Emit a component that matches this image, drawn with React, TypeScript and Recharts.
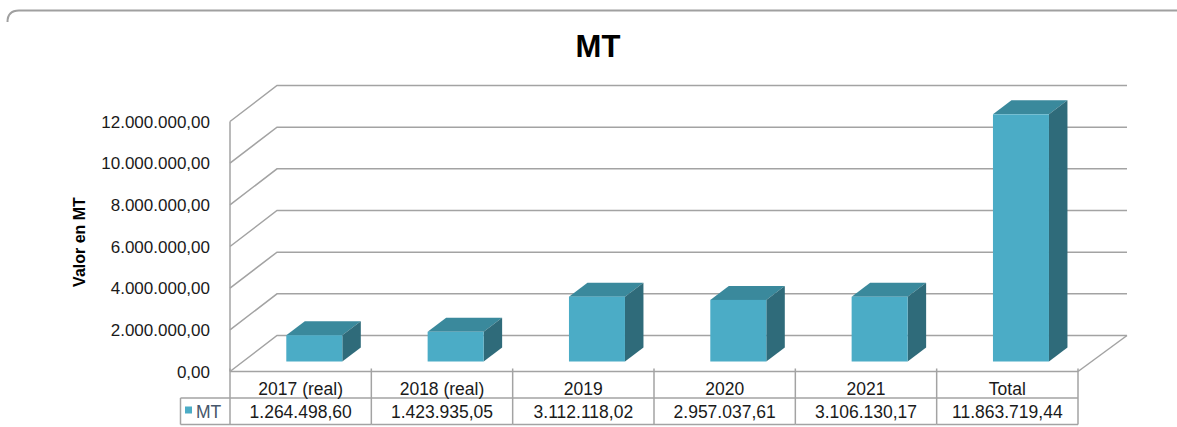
import React from 'react';
import { BarChart, Bar, XAxis, YAxis, CartesianGrid, Customized } from 'recharts';

// ---- data ----
const categories = ['2017 (real)', '2018 (real)', '2019', '2020', '2021', 'Total'];
const mtValues = [1264498.6, 1423935.05, 3112118.02, 2957037.61, 3106130.17, 11863719.44];
const yTicks = [0, 2000000, 4000000, 6000000, 8000000, 10000000, 12000000];
const seriesName = 'MT';
const chartTitle = 'MT';
const yAxisTitle = 'Valor en MT';

const data = categories.map((c, i) => ({ category: c, value: mtValues[i] }));

// ---- layout ----
const W = 1177;
const H = 427;
const PLOT_L = 230;
const PLOT_R = 1078;
const PLOT_T = 121.5;
const PLOT_B = 371.5;
const BAND = (PLOT_R - PLOT_L) / categories.length;
const DEPTH_X = 47;
const DEPTH_Y = -36;
const BAR_DX = 13.3;
const BAR_DY = -10;
const BAR_DEPTH_X = 18.5;
const BAR_DEPTH_Y = -14;
const FONT = '"Liberation Sans", Arial, sans-serif';
const GRID = '#a3a3a3';
const FRONT = '#4bacc6';
const TOP = '#3a899c';
const SIDE = '#2f6b7a';

function fmt(v: number): string {
  const s = v.toFixed(2);
  const [intPart, dec] = s.split('.');
  const withDots = intPart.replace(/\B(?=(\d{3})+(?!\d))/g, '.');
  return `${withDots},${dec}`;
}

const Bar3D = (props: any) => {
  const { x, y, width, height } = props;
  if (width == null || height == null) return null;
  const fx = x + BAR_DX;
  const fy = y + BAR_DY;
  const x1 = fx + width;
  const yb = fy + height;
  return (
    <g>
      <polygon
        points={`${fx},${fy} ${fx + BAR_DEPTH_X},${fy + BAR_DEPTH_Y} ${x1 + BAR_DEPTH_X},${fy + BAR_DEPTH_Y} ${x1},${fy}`}
        fill={TOP}
      />
      <polygon
        points={`${x1},${fy} ${x1 + BAR_DEPTH_X},${fy + BAR_DEPTH_Y} ${x1 + BAR_DEPTH_X},${yb + BAR_DEPTH_Y} ${x1},${yb}`}
        fill={SIDE}
      />
      <rect x={fx} y={fy} width={width} height={height} fill={FRONT} />
    </g>
  );
};

const gridLine = (p: any) => {
  const { x1, y1, x2 } = p;
  return (
    <path
      key={`grid-${y1}`}
      d={`M${x1},${y1}L${x1 + DEPTH_X},${y1 + DEPTH_Y}L${x2 + 49},${y1 + DEPTH_Y}`}
      fill="none"
      stroke={GRID}
      strokeWidth={1.5}
    />
  );
};

const TableTick = (props: any) => {
  const { payload, index } = props;
  const cx = payload.coordinate;
  const y0 = PLOT_B;
  const left = cx - BAND / 2;
  const right = cx + BAND / 2;
  const rowH = 26.5;
  const last = index === categories.length - 1;
  const lineProps = { stroke: GRID, strokeWidth: 1.5 };
  return (
    <g>
      <line x1={left} y1={y0} x2={right} y2={y0} {...lineProps} />
      <line x1={left} y1={y0 + rowH} x2={right} y2={y0 + rowH} {...lineProps} />
      <line x1={left} y1={y0 + 2 * rowH} x2={right} y2={y0 + 2 * rowH} {...lineProps} />
      <line x1={left} y1={y0 - 3} x2={left} y2={y0 + 2 * rowH} {...lineProps} />
      {last && (
        <>
          <line x1={right} y1={y0 - 3} x2={right} y2={y0 + 2 * rowH} {...lineProps} />
          <line x1={right} y1={y0} x2={right + 49} y2={y0 + DEPTH_Y} {...lineProps} />
        </>
      )}
      {index === 0 && (
        <>
          <line x1={left - 49.5} y1={y0 + rowH} x2={left} y2={y0 + rowH} {...lineProps} />
          <line x1={left - 49.5} y1={y0 + 2 * rowH} x2={left} y2={y0 + 2 * rowH} {...lineProps} />
          <line x1={left - 49.5} y1={y0 + rowH} x2={left - 49.5} y2={y0 + 2 * rowH} {...lineProps} />
          <rect x={left - 45} y={y0 + rowH + 8.5} width={7} height={7} fill={FRONT} />
          <text x={left - 34} y={y0 + rowH + 20} fontFamily={FONT} fontSize={17.5} fill="#46566a">
            {seriesName}
          </text>
        </>
      )}
      <text x={cx} y={y0 + 23} textAnchor="middle" fontFamily={FONT} fontSize={17.5} fill="#1a1a1a">
        {payload.value}
      </text>
      <text x={cx} y={y0 + 46.8} textAnchor="middle" fontFamily={FONT} fontSize={17.5} fill="#1a1a1a">
        {fmt(mtValues[index])}
      </text>
    </g>
  );
};

const Decor = () => (
  <g>
    <path d={`M7.5,22 Q7.5,10.5 19,10.5 L${W},10.5`} fill="none" stroke="#a0a0a0" strokeWidth={2} />
    <text x={598} y={56.7} textAnchor="middle" fontFamily={FONT} fontWeight="bold" fontSize={31} fill="#000">
      {chartTitle}
    </text>
  </g>
);

export default function App() {
  return (
    <div style={{ position: 'absolute', left: 0, top: 0, width: W, height: H, background: '#fff' }}>
      <BarChart
        width={W}
        height={H}
        data={data}
        margin={{ top: PLOT_T, right: W - PLOT_R, bottom: 0, left: 0 }}
        barCategoryGap={0}
      >
        <Customized component={Decor} />
        <CartesianGrid vertical={false} horizontal={gridLine} />
        <YAxis
          width={PLOT_L}
          domain={[0, 12000000]}
          ticks={yTicks}
          interval={0}
          tickLine={false}
          tickSize={0}
          tickMargin={20}
          axisLine={{ stroke: GRID, strokeWidth: 1.5 }}
          tickFormatter={(v: number) => fmt(v)}
          tick={{ fontFamily: FONT, fontSize: 17, fill: '#1a1a1a' }}
          label={{
            position: 'insideLeft',
            content: () => (
              <text
                x={79}
                y={242}
                transform="rotate(-90 79 242)"
                textAnchor="middle"
                dominantBaseline="central"
                fontFamily={FONT}
                fontWeight="bold"
                fontSize={16}
                fill="#000"
              >
                {yAxisTitle}
              </text>
            ),
          }}
        />
        <XAxis
          dataKey="category"
          height={H - PLOT_B}
          axisLine={false}
          tickLine={false}
          tickSize={0}
          tickMargin={0}
          interval={0}
          tick={<TableTick />}
        />
        <Bar dataKey="value" name={seriesName} barSize={56} shape={<Bar3D />} isAnimationActive={false} />
      </BarChart>
    </div>
  );
}
